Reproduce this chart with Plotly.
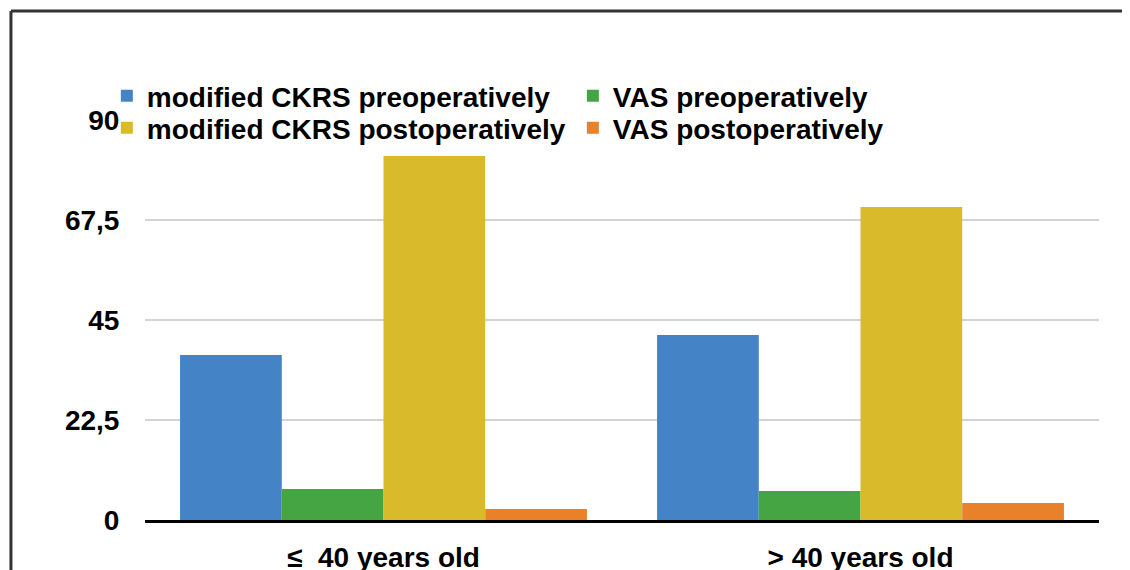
import plotly.graph_objects as go

categories = ["≤  40 years old", "> 40 years old"]
series_names = [
    "modified CKRS preoperatively",
    "VAS preoperatively",
    "modified CKRS postoperatively",
    "VAS postoperatively",
]
ckrs_pre = [37.1, 41.6]
vas_pre = [7.0, 6.5]
ckrs_post = [81.9, 70.4]
vas_post = [2.5, 3.8]
tick_vals = [0, 22.5, 45, 67.5, 90]
tick_text = ["0", "22,5", "45", "67,5", "90"]

colors = ["#4583c7", "#44a542", "#d8ba2a", "#e9802a"]
values = [ckrs_pre, vas_pre, ckrs_post, vas_post]
legend_ids = ["legend", "legend2", "legend3", "legend4"]
legend_pos = [(-0.04, 1.06), (0.4485, 1.06), (-0.04, 0.98), (0.4485, 0.98)]

FONT = "Liberation Sans, Arial, sans-serif"

fig = go.Figure()
for name, vals, col, lg in zip(series_names, values, colors, legend_ids):
    fig.add_trace(go.Bar(x=categories, y=vals, name=name, legend=lg,
                         marker=dict(color=col, line=dict(width=0))))

legend_common = dict(
    orientation="h", xanchor="left", yanchor="middle",
    bgcolor="rgba(0,0,0,0)",
    font=dict(size=28, family=FONT, weight="bold"),
    itemwidth=30,
)
legends = {lg: dict(x=px, y=py, **legend_common)
           for lg, (px, py) in zip(legend_ids, legend_pos)}

# the page body adds an 8px offset; margins are compensated for it
fig.update_layout(
    width=1130, height=570,
    margin=dict(l=137, r=39, t=112, b=58),
    paper_bgcolor="white", plot_bgcolor="white",
    barmode="group", bargap=0.147, bargroupgap=0,
    font=dict(family=FONT, color="black"),
    showlegend=True,
    **legends,
)
fig.update_yaxes(
    range=[0, 90], tickvals=tick_vals, ticktext=tick_text,
    showgrid=True, gridcolor="#d3d3d3", gridwidth=1.5,
    zeroline=False, showline=False, automargin=False,
    ticks="outside", ticklen=19, tickcolor="rgba(0,0,0,0)",
    tickfont=dict(size=28, family=FONT, weight="bold"),
)
fig.update_xaxes(
    showline=True, linecolor="black", linewidth=3, automargin=False,
    ticks="", tickfont=dict(size=28, family=FONT, weight="bold"),
    ticklabelstandoff=10,
)

# outer frame (top and left edges visible in the crop)
fig.add_shape(type="line", xref="paper", yref="paper",
              x0=-0.1405, x1=1.05, y0=1.2725, y1=1.2725,
              line=dict(color="#333333", width=3))
fig.add_shape(type="line", xref="paper", yref="paper",
              x0=-0.1405, x1=-0.1405, y0=1.2725, y1=-0.3,
              line=dict(color="#333333", width=3))

fig.write_html("out.html")
